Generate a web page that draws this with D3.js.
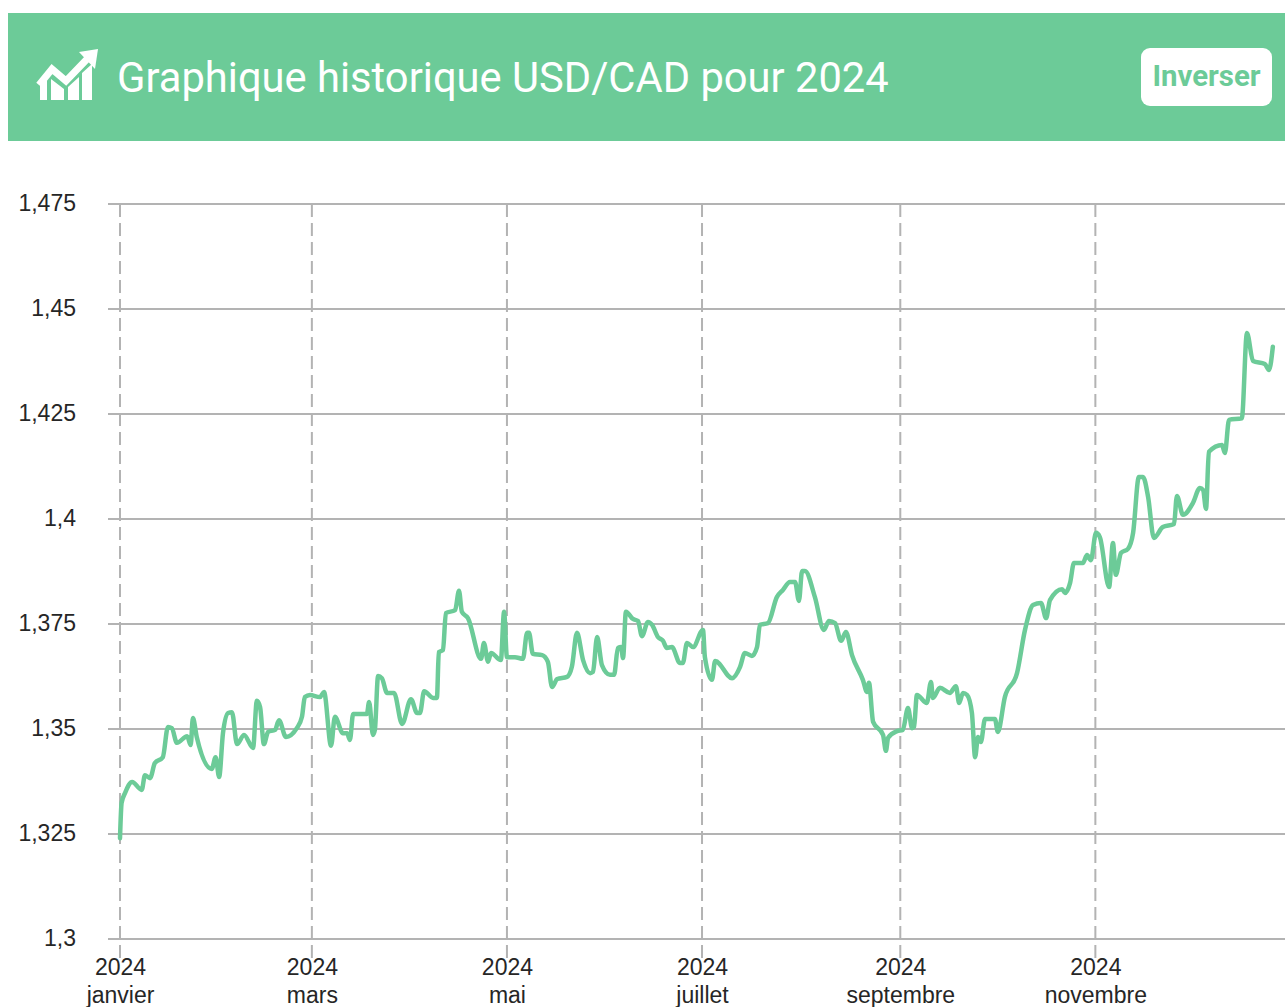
<!DOCTYPE html>
<html>
<head>
<meta charset="utf-8">
<script src="https://cdn.jsdelivr.net/npm/d3@7"></script>
<style>
  body { margin: 0; background: #fff; overflow: hidden; }
  svg { display: block; }
  .axis text { font-family: "Liberation Sans", Arial, sans-serif; font-size: 23px; fill: #262626; }
  .axis .domain { display: none; }
  .header-text { font-family: Roboto, sans-serif; }
</style>
</head>
<body>
<div id="graphic"></div>
<script>
// days since 1 jan 2024
var days = [0,0.5,1.6,3.8,6.8,7.8,9.4,10.9,13.4,15,16.2,17.8,21,22.1,22.8,24,28.7,29.9,31,32.2,33.8,35,36.6,38.8,41.6,42.8,43.8,45,46.3,48.5,49.7,51.9,55.3,56.9,57.8,59.4,62.5,63.8,66,67.2,69.7,71,71.9,72.9,77.2,77.9,79.1,79.7,80.7,81.9,83.5,85.7,88.2,91,92.9,93.8,95.1,97.9,99.1,99.7,101,101.9,104.8,106,106.9,108.8,112.9,113.8,115.1,116,119.1,120.1,121,123.5,126,127.3,127.9,129.1,132,133.8,135.1,136.7,139.8,141.3,142.9,144.8,147,147.9,149.2,150.7,153.2,154.5,155.7,156.7,157.3,158.2,160.4,162,163.2,165.1,166.4,168.2,169.8,171,172.6,175.1,176,177.3,179.2,182.3,182.9,185.1,186.1,191.4,193.9,195.4,197.6,199.2,200.1,202.6,205.4,207.3,209.5,211.1,212.3,213.3,214.2,217.3,220.1,221.7,223.6,225.5,227,228.9,232.3,233.6,234.2,235.5,238.6,239.5,240.2,243,244.8,246.4,247.7,248.3,249.2,252.3,253.6,254.2,256.4,259.5,261.4,262.4,263.6,264.9,266.4,267.4,268.3,269.2,270.5,273.6,274.5,276.7,280.5,283,285.5,288,289.6,290.8,294.6,295.5,297.1,298.3,301.1,302.4,303.6,305.2,306.4,309.3,310.5,311.4,313,315.2,316.8,318.6,319.9,321.5,323.3,326.1,329.6,330.5,332.4,335.5,337.7,338.7,339.6,340.5,344.6,345.5,346.8,350.8,352.4,354.3,358,359.3,360.5];

var rates = [1.3240,1.3324,1.3348,1.3374,1.3355,1.3390,1.3383,1.3419,1.3433,1.3505,1.3502,1.3467,1.3483,1.3462,1.3526,1.3481,1.3405,1.3433,1.3386,1.3490,1.3538,1.3540,1.3464,1.3486,1.3455,1.3567,1.3552,1.3464,1.3493,1.3498,1.3521,1.3481,1.3502,1.3529,1.3576,1.3581,1.3576,1.3588,1.3460,1.3529,1.3490,1.3490,1.3474,1.3536,1.3536,1.3564,1.3486,1.3498,1.3626,1.3621,1.3586,1.3586,1.3512,1.3571,1.3538,1.3538,1.3590,1.3574,1.3574,1.3683,1.3688,1.3776,1.3783,1.3829,1.3779,1.3764,1.3667,1.3705,1.3660,1.3681,1.3664,1.3779,1.3671,1.3671,1.3667,1.3729,1.3729,1.3679,1.3676,1.3660,1.3600,1.3619,1.3624,1.3648,1.3729,1.3664,1.3633,1.3636,1.3719,1.3652,1.3629,1.3629,1.3693,1.3695,1.3669,1.3779,1.3762,1.3757,1.3721,1.3755,1.3748,1.3719,1.3710,1.3693,1.3695,1.3657,1.3657,1.3705,1.3695,1.3736,1.3671,1.3617,1.3662,1.3621,1.3648,1.3681,1.3674,1.3695,1.3748,1.3752,1.3814,1.3831,1.3850,1.3850,1.3805,1.3876,1.3876,1.3814,1.3736,1.3757,1.3752,1.3710,1.3731,1.3676,1.3617,1.3588,1.3610,1.3517,1.3486,1.3448,1.3479,1.3495,1.3498,1.3550,1.3502,1.3505,1.3581,1.3562,1.3612,1.3574,1.3598,1.3586,1.3602,1.3562,1.3586,1.3581,1.3538,1.3433,1.3481,1.3469,1.3524,1.3524,1.3493,1.3576,1.3633,1.3736,1.3795,1.3800,1.3764,1.3807,1.3833,1.3824,1.3848,1.3895,1.3895,1.3914,1.3902,1.3967,1.3957,1.3838,1.3943,1.3867,1.3919,1.3929,1.3967,1.4100,1.4100,1.4052,1.3955,1.3981,1.3988,1.4055,1.4010,1.4038,1.4074,1.4069,1.4024,1.4160,1.4176,1.4157,1.4236,1.4240,1.4443,1.4376,1.4369,1.4355,1.4410];

var yTicks = [1.3,1.325,1.35,1.375,1.4,1.425,1.45,1.475];
var monthDays = [0,60,121,182,244,305];
var monthNames = ["janvier","mars","mai","juillet","septembre","novembre"];
var year = "2024";
var titleText = "Graphique historique USD/CAD pour 2024";

var green = "#6ccb98";
var gridColour = "#b3b3b3";

var svg = d3.select("#graphic").append("svg")
  .attr("width", 1285)
  .attr("height", 1007);

// header band
svg.append("rect")
  .attr("x", 8).attr("y", 13)
  .attr("width", 1277).attr("height", 128)
  .attr("fill", green);

// little chart icon
var icon = svg.append("g").attr("fill", "#fff");
icon.append("path").attr("d", "M40 100V84L47 78V100ZM51 100V79L64 89V100ZM68 100V87L79 77V100ZM82 100V73L92 64V100Z");
icon.append("path")
  .attr("d", "M39 85L52 69L66 81L90 56")
  .attr("fill", "none").attr("stroke", "#fff").attr("stroke-width", 7);
icon.append("path").attr("d", "M79 52L98 49L95 69Z");

svg.append("text")
  .attr("class", "header-text")
  .attr("x", 117).attr("y", 92)
  .attr("font-size", 41.7)
  .attr("fill", "#fff")
  .text(titleText);

svg.append("rect")
  .attr("x", 1141).attr("y", 48)
  .attr("width", 131).attr("height", 58)
  .attr("rx", 9)
  .attr("fill", "#fff");

svg.append("text")
  .attr("class", "header-text")
  .attr("x", 1206.5).attr("y", 86)
  .attr("text-anchor", "middle")
  .attr("font-size", 29.4)
  .attr("font-weight", 700)
  .attr("fill", green)
  .text("Inverser");

// scales
var x = d3.scaleLinear().domain([0, 364.3]).range([120, 1285]);
var y = d3.scaleLinear().domain([1.3, 1.475]).range([939, 204]);

// horizontal grid
var yAxis = d3.axisLeft(y)
  .tickValues(yTicks)
  .tickSize(1285 - 108)
  .offset(0)
  .tickFormat(function(d) { return String(d).replace(".", ","); });

var yg = svg.append("g")
  .attr("class", "y axis")
  .attr("transform", "translate(1285,0)")
  .call(yAxis);

yg.selectAll("line")
  .attr("stroke", gridColour)
  .attr("stroke-width", 2);

// the labels sit left of the grid start
yg.selectAll("text")
  .attr("x", 76 - 1285)
  .attr("text-anchor", "end");

// vertical dashed lines, they run a bit under the axis
var xAxis = d3.axisBottom(x)
  .tickValues(monthDays)
  .tickSize(19)
  .tickPadding(0)
  .offset(0)
  .tickFormat("");

var xg = svg.append("g")
  .attr("class", "x axis")
  .attr("transform", "translate(0,939)")
  .call(xAxis);

xg.selectAll("line")
  .attr("y1", 204 - 939)
  .attr("y2", 19)
  .attr("stroke", gridColour)
  .attr("stroke-width", 2)
  .attr("stroke-dasharray", "13,6");

var labels = xg.selectAll("text")
  .attr("y", 0)
  .attr("dy", 0);

labels.each(function(d, i) {
  var t = d3.select(this);
  t.append("tspan").attr("x", 0.5).attr("y", 36).text(year);
  t.append("tspan").attr("x", 0.5).attr("y", 64).text(monthNames[i]);
});

// rate line
var line = d3.line()
  .x(function(d) { return x(d[0]); })
  .y(function(d) { return y(d[1]); })
  .curve(d3.curveMonotoneX);

svg.append("path")
  .datum(d3.zip(days, rates))
  .attr("fill", "none")
  .attr("stroke", green)
  .attr("stroke-width", 4.5)
  .attr("stroke-linejoin", "round")
  .attr("stroke-linecap", "round")
  .attr("d", line);
</script>
</body>
</html>
